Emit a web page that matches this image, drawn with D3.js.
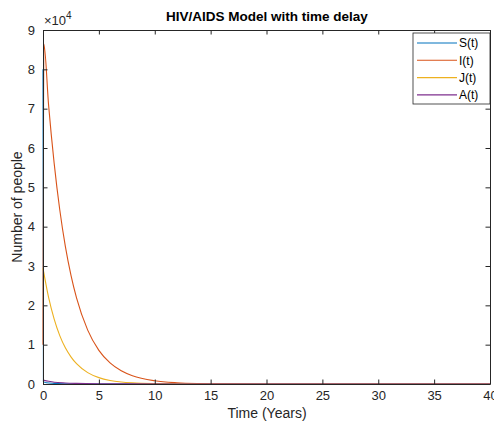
<!DOCTYPE html>
<html>
<head>
<meta charset="utf-8">
<script src="https://cdn.jsdelivr.net/npm/d3@7"></script>
<style>
  html, body { margin: 0; padding: 0; background: #fff; }
  svg { display: block; font-family: "Liberation Sans", Arial, Helvetica, sans-serif; }
</style>
</head>
<body>
<svg id="chart" width="494" height="429"></svg>
<script>
// ---- data ----
const seriesNames = ["S(t)", "I(t)", "J(t)", "A(t)"];
const seriesColors = ["#0072BD", "#D95319", "#EDB120", "#7E2F8E"];

const timeS = [0, 0.04, 0.3, 1, 2, 4, 40];
const valS  = [80000, 600, 300, 150, 60, 0, 0];

const timeI = [0, 0.08, 0.5, 1, 1.5, 2, 2.5, 3, 4, 5, 6, 7, 8, 10, 12, 14, 16, 20, 25, 40];
const valI  = [10000, 86400, 70900, 56100, 44300, 35000, 27700, 21900, 13700, 8560, 5350, 3350, 2090, 820, 320, 125, 50, 10, 0, 0];

const timeJ = [0, 0.5, 1, 1.5, 2, 2.5, 3, 4, 5, 6, 7, 8, 10, 12, 14, 18, 40];
const valJ  = [29400, 22000, 16500, 12300, 9200, 6900, 5150, 2890, 1620, 905, 510, 285, 90, 30, 10, 0, 0];

const timeA = [0, 0.5, 1, 2, 3, 5, 8, 12, 40];
const valA  = [1000, 700, 450, 250, 150, 60, 20, 0, 0];

const xTicks = [0, 5, 10, 15, 20, 25, 30, 35, 40];
const yTicks = [0, 1, 2, 3, 4, 5, 6, 7, 8, 9];

const titleText = "HIV/AIDS Model with time delay";
const xLabelText = "Time (Years)";
const yLabelText = "Number of people";

// ---- layout ----
const svg = d3.select("#chart");
const L = 43, R = 490, T = 30, B = 384;
const axisColor = "#262626";

const x = d3.scaleLinear().domain([0, 40]).range([L, R]);
const y = d3.scaleLinear().domain([0, 90000]).range([B, T]);

const series = [
  { t: timeS, v: valS },
  { t: timeI, v: valI },
  { t: timeJ, v: valJ },
  { t: timeA, v: valA }
].map((s, i) => ({
  name: seriesNames[i], color: seriesColors[i],
  pts: s.t.map((tt, k) => [tt, s.v[k]])
}));

// clip
svg.append("defs").append("clipPath").attr("id", "clip")
  .append("rect").attr("x", L - 1).attr("y", T).attr("width", R - L + 2).attr("height", B - T + 1);

const line = d3.line().x(d => x(d[0])).y(d => y(d[1])).curve(d3.curveMonotoneX);

const g = svg.append("g").attr("clip-path", "url(#clip)");
series.forEach(s => {
  g.append("path").attr("d", line(s.pts))
    .attr("fill", "none").attr("stroke", s.color).attr("stroke-width", 1.1);
});

// axes (box style with inward ticks)
const tickLen = 4.5;
const axB = svg.append("g").attr("transform", `translate(0,${B})`)
  .call(d3.axisBottom(x).tickValues(xTicks).tickSizeInner(-tickLen).tickSizeOuter(0).tickPadding(7));
const axT = svg.append("g").attr("transform", `translate(0,${T})`)
  .call(d3.axisTop(x).tickValues(xTicks).tickSizeInner(-tickLen).tickSizeOuter(0).tickFormat(""));
const axL = svg.append("g").attr("transform", `translate(${L},0)`)
  .call(d3.axisLeft(y).tickValues(yTicks.map(v => v * 10000)).tickSizeInner(-tickLen).tickSizeOuter(0)
    .tickPadding(8).tickFormat(d => d / 10000));
const axR = svg.append("g").attr("transform", `translate(${R},0)`)
  .call(d3.axisRight(y).tickValues(yTicks.map(v => v * 10000)).tickSizeInner(-tickLen).tickSizeOuter(0).tickFormat(""));

[axB, axT, axL, axR].forEach(a => {
  a.select(".domain").attr("stroke", axisColor).attr("stroke-width", 1);
  a.selectAll(".tick line").attr("stroke", axisColor);
  a.selectAll("text").attr("fill", axisColor).style("font-size", "13px")
    .style("font-family", "'Liberation Sans', Arial, sans-serif");
});

// exponent label
const ex = svg.append("text").attr("x", 44).attr("y", 25).attr("fill", axisColor).style("font-size", "13px");
ex.append("tspan").text("\u00d710");
ex.append("tspan").attr("dy", -6).style("font-size", "10px").text("4");

// title
svg.append("text").attr("x", 267).attr("y", 21).attr("text-anchor", "middle")
  .style("font-size", "13.5px").style("font-weight", "bold").attr("fill", "#000").text(titleText);

// axis labels
svg.append("text").attr("x", 267).attr("y", 418).attr("text-anchor", "middle")
  .style("font-size", "14px").attr("fill", axisColor).text(xLabelText);
svg.append("text").attr("transform", `translate(22,${(T + B) / 2}) rotate(-90)`).attr("text-anchor", "middle")
  .style("font-size", "14px").attr("fill", axisColor).text(yLabelText);

// legend
const lgX = 413, lgY = 33, lgW = 77, lgH = 71, rowH = 17.3;
svg.append("rect").attr("x", lgX).attr("y", lgY).attr("width", lgW).attr("height", lgH)
  .attr("fill", "#fff").attr("stroke", axisColor).attr("stroke-width", 0.8);
series.forEach((s, i) => {
  const yy = lgY + 10 + i * rowH;
  svg.append("line").attr("x1", lgX + 4).attr("x2", lgX + 44).attr("y1", yy).attr("y2", yy)
    .attr("stroke", s.color).attr("stroke-width", 1.1);
  svg.append("text").attr("x", lgX + 46).attr("y", yy).attr("dy", "0.35em")
    .style("font-size", "12px").attr("fill", "#000").text(s.name);
});
</script>
</body>
</html>
